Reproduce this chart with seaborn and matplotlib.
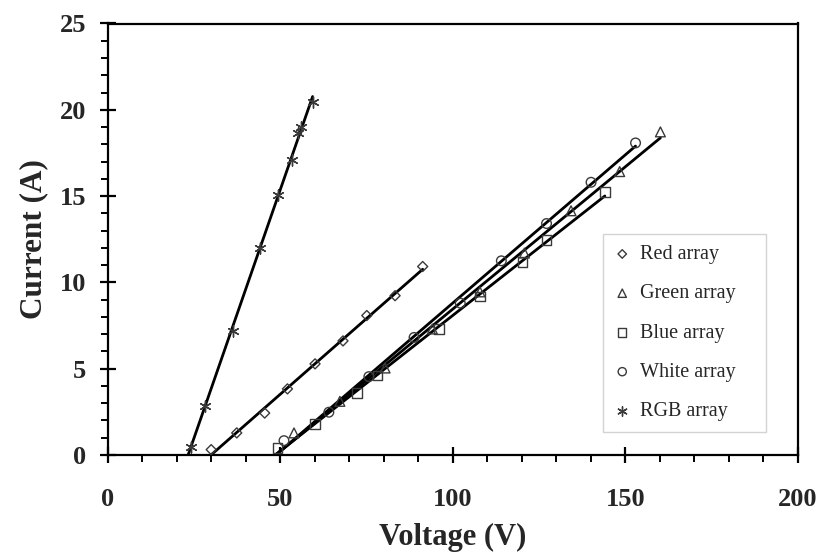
import numpy as np
import pandas as pd
import matplotlib
matplotlib.use("Agg")
import matplotlib.pyplot as plt
from matplotlib.ticker import MultipleLocator
import seaborn as sns

# ---- data ----
red_v = [30.0, 37.4, 45.5, 52.1, 60.1, 68.2, 75.1, 83.3, 91.3]
red_i = [0.31, 1.28, 2.43, 3.83, 5.28, 6.61, 8.08, 9.23, 10.92]

green_v = [54.0, 67.3, 80.4, 94.1, 107.9, 120.8, 134.3, 148.4, 160.2]
green_i = [1.28, 3.11, 5.04, 7.30, 9.45, 11.70, 14.15, 16.42, 18.72]

blue_v = [49.2, 60.1, 72.2, 78.2, 96.0, 107.9, 120.2, 127.2, 144.1]
blue_i = [0.41, 1.80, 3.58, 4.60, 7.30, 9.18, 11.17, 12.44, 15.22]

white_v = [51.1, 64.1, 75.7, 88.8, 102.2, 114.1, 127.2, 140.1, 153.0]
white_i = [0.83, 2.48, 4.54, 6.81, 8.80, 11.25, 13.41, 15.80, 18.08]

rgb_v = [24.1, 28.1, 36.2, 44.1, 49.3, 53.3, 55.2, 56.1, 59.4]
rgb_i = [0.46, 2.84, 7.19, 12.00, 15.07, 17.10, 18.65, 19.03, 20.46]

labels = ["Red array", "Green array", "Blue array", "White array", "RGB array"]
x_ticks = [0, 50, 100, 150, 200]
y_ticks = [0, 5, 10, 15, 20, 25]

series = [
    (labels[0], red_v, red_i),
    (labels[1], green_v, green_i),
    (labels[2], blue_v, blue_i),
    (labels[3], white_v, white_i),
    (labels[4], rgb_v, rgb_i),
]
markers = {labels[0]: "D", labels[1]: "^", labels[2]: "s",
           labels[3]: "o", labels[4]: (6, 2, 0)}
sizes = {labels[0]: 26, labels[1]: 50, labels[2]: 48,
         labels[3]: 48, labels[4]: 64}

df = pd.concat([pd.DataFrame({"Voltage": v, "Current": i, "Series": n})
                for n, v, i in series], ignore_index=True)

# ---- style ----
sns.set_theme(style="white")
plt.rcParams["font.family"] = ["Liberation Serif", "DejaVu Serif"]
plt.rcParams["axes.edgecolor"] = "black"

fig = plt.figure(figsize=(8.22, 5.54), dpi=100)
ax = fig.add_axes([107.7 / 822, 1 - 455 / 554, 690 / 822, 431.5 / 554])

mk_col = "#3a3a3a"

# fitted lines
for name, v, i in series:
    a, b = np.polyfit(v, i, 1)
    x0 = max(-b / a, 0)
    xs = np.linspace(x0, max(v), 50)
    sns.lineplot(x=xs, y=a * xs + b, color="black", lw=2.0, ax=ax,
                 legend=False, zorder=2)

# markers
for name, v, i in series:
    sub = df[df["Series"] == name]
    m = markers[name]
    if name == labels[4]:
        sns.scatterplot(data=sub, x="Voltage", y="Current", marker=m,
                        s=sizes[name], color=mk_col, linewidths=1.0,
                        ax=ax, label=name, zorder=3)
    else:
        sns.scatterplot(data=sub, x="Voltage", y="Current", marker=m,
                        s=sizes[name], facecolors="none",
                        edgecolors=mk_col, linewidths=1.0,
                        ax=ax, label=name, zorder=3)

ax.set_xlim(x_ticks[0], x_ticks[-1])
ax.set_ylim(y_ticks[0], y_ticks[-1])
ax.set_xticks(x_ticks)
ax.set_yticks(y_ticks)
ax.xaxis.set_minor_locator(MultipleLocator(10))
ax.yaxis.set_minor_locator(MultipleLocator(1))

for sp in ax.spines.values():
    sp.set_visible(True)
    sp.set_linewidth(1.6)
    sp.set_color("black")

ax.tick_params(axis="both", which="major", direction="inout", length=11,
               width=1.6, color="black", bottom=True, left=True,
               top=False, right=False)
ax.tick_params(axis="both", which="minor", direction="out", length=5,
               width=1.4, color="black", bottom=True, left=True,
               top=False, right=False)
ax.tick_params(axis="x", which="major", pad=18, labelsize=19)
ax.tick_params(axis="y", which="major", pad=10, labelsize=19)
for t in ax.get_xticklabels() + ax.get_yticklabels():
    t.set_fontweight("bold")

ax.set_xlabel("Voltage (V)", fontsize=22, fontweight="bold", labelpad=9)
ax.set_ylabel("Current (A)", fontsize=22.5, fontweight="bold", labelpad=8)

leg = ax.legend(loc="upper left", bbox_to_anchor=(0.718, 0.512, 0.236, 0.0),
                mode="expand", frameon=True, fancybox=False, shadow=False,
                fontsize=14.5, labelspacing=1.0, borderpad=0.55,
                handlelength=0.8, handletextpad=0.5, markerscale=0.85,
                borderaxespad=0)
leg.get_frame().set_edgecolor("#c8c8c8")
leg.get_frame().set_linewidth(1.0)

ax.grid(False)
fig.savefig("out.png", dpi=100)
